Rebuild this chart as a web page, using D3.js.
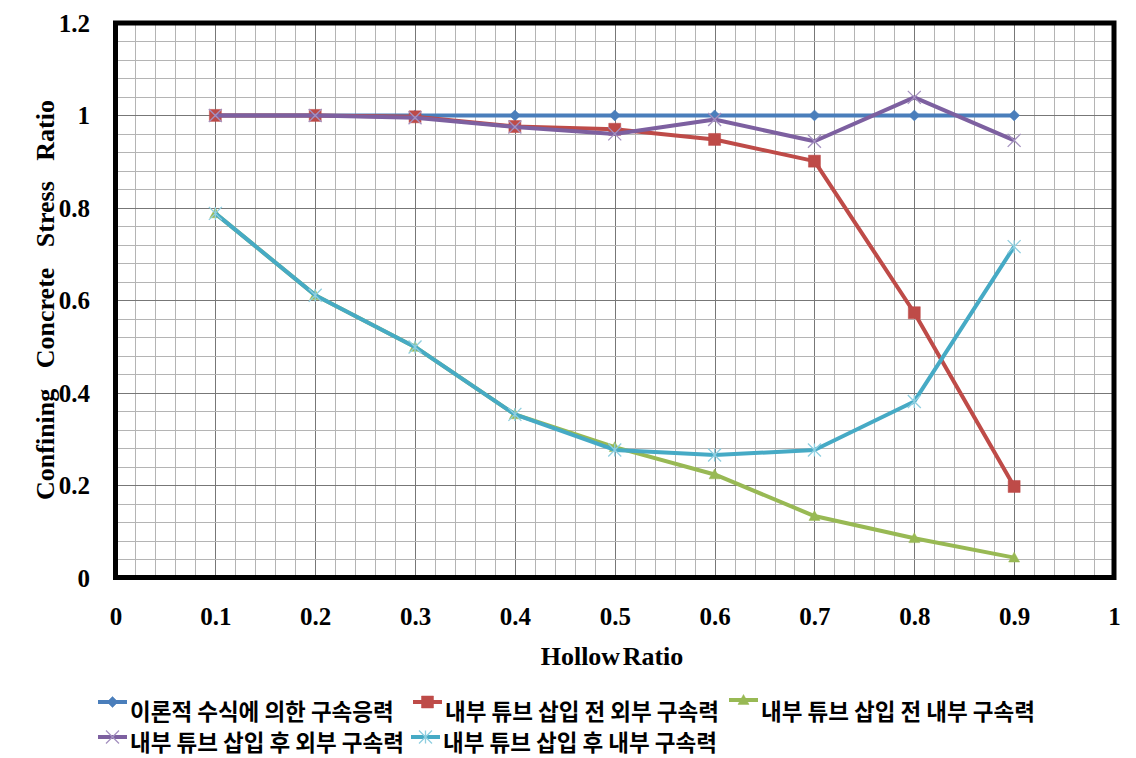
<!DOCTYPE html>
<html><head><meta charset="utf-8">
<script src="https://cdn.jsdelivr.net/npm/d3@7"></script>
<style>body{margin:0;background:#fff}svg{display:block}</style>
</head><body><svg id="c" width="1136" height="758"></svg>
<script>
// ---- data ----
const hollowRatio = [0.1, 0.2, 0.3, 0.4, 0.5, 0.6, 0.7, 0.8, 0.9];
const seriesNames = [
  "이론적 수식에 의한 구속응력",
  "내부 튜브 삽입 전 외부 구속력",
  "내부 튜브 삽입 전 내부 구속력",
  "내부 튜브 삽입 후 외부 구속력",
  "내부 튜브 삽입 후 내부 구속력"
];
const theoretical = [1, 1, 1, 1, 1, 1, 1, 1, 1];
const outerBefore = [1.0, 1.0, 0.997, 0.976, 0.970, 0.948, 0.901, 0.573, 0.197];
const innerBefore = [0.788, 0.611, 0.499, 0.353, 0.282, 0.223, 0.133, 0.085, 0.043];
const outerAfter  = [1.0, 1.0, 0.995, 0.975, 0.960, 0.991, 0.944, 1.039, 0.946];
const innerAfter  = [0.788, 0.611, 0.499, 0.353, 0.276, 0.265, 0.276, 0.381, 0.716];
const xTickValues = [0, 0.1, 0.2, 0.3, 0.4, 0.5, 0.6, 0.7, 0.8, 0.9, 1];
const xTickLabels = ["0", "0.1", "0.2", "0.3", "0.4", "0.5", "0.6", "0.7", "0.8", "0.9", "1"];
const yTickValues = [0, 0.2, 0.4, 0.6, 0.8, 1, 1.2];
const yTickLabels = ["0", "0.2", "0.4", "0.6", "0.8", "1", "1.2"];
const xTitle = "Hollow Ratio";
const yTitle = "Confining Concrete Stress Ratio";

// ---- styles ----
const colors = ["#4A7EBB", "#BE4B48", "#98B954", "#7D60A0", "#46AAC5"];
const markerTypes = ["diamond", "square", "triangle", "x", "star"];
const allSeries = [theoretical, outerBefore, innerBefore, outerAfter, innerAfter];

const svg = d3.select("#c");
const L = 115.5, R = 1114, T = 23, B = 577.5;
const x = d3.scaleLinear().domain([0, 1]).range([L, R]);
const y = d3.scaleLinear().domain([0, 1.2]).range([B, T]);

// grid
const gx = d3.range(0, 1.0001, 0.02);
const gy = d3.range(0, 1.2001, 0.04);
const grid = svg.append("g");
grid.selectAll("line.mx").data(gx).join("line")
  .attr("x1", d => Math.round(x(d)) + 0.5).attr("x2", d => Math.round(x(d)) + 0.5)
  .attr("y1", T).attr("y2", B)
  .attr("stroke", d => (Math.abs(d * 10 - Math.round(d * 10)) < 1e-6) ? "#777" : "#b4b4b4")
  .attr("stroke-width", 1);
grid.selectAll("line.my").data(gy).join("line")
  .attr("y1", d => Math.round(y(d)) + 0.5).attr("y2", d => Math.round(y(d)) + 0.5)
  .attr("x1", L).attr("x2", R)
  .attr("stroke", d => (Math.abs(d * 5 - Math.round(d * 5)) < 1e-6) ? "#777" : "#b4b4b4")
  .attr("stroke-width", 1);

// marker path generator
function markerPath(type, s) {
  const h = s / 2;
  switch (type) {
    case "diamond": return `M0,${-h}L${h},0L0,${h}L${-h},0Z`;
    case "square": return `M${-h},${-h}H${h}V${h}H${-h}Z`;
    case "triangle": return `M0,${-h}L${h},${h * 0.8}L${-h},${h * 0.8}Z`;
    case "x": return `M${-h},${-h}L${h},${h}M${h},${-h}L${-h},${h}`;
    case "star": return `M${-h},${-h}L${h},${h}M${h},${-h}L${-h},${h}M0,${-h}V${h}`;
  }
}
const markerSize = {diamond: 11, square: 12, triangle: 11, x: 13, star: 13};
function drawMarker(g, type, color, cx, cy) {
  const p = g.append("path").attr("transform", `translate(${cx},${cy})`)
    .attr("d", markerPath(type, markerSize[type]));
  if (type === "x" || type === "star") {
    p.attr("fill", "none").attr("stroke", type === "x" ? "#A592C0" : "#8FCFE0").attr("stroke-width", 1.3);
  } else {
    p.attr("fill", color).attr("stroke", color).attr("stroke-width", 0.5);
  }
}

// series
const line = d3.line().x(d => x(d[0])).y(d => y(d[1]));
allSeries.forEach((vals, i) => {
  const g = svg.append("g");
  const pts = hollowRatio.map((h, j) => [h, vals[j]]);
  g.append("path").datum(pts).attr("d", line)
    .attr("fill", "none").attr("stroke", colors[i]).attr("stroke-width", 4)
    .attr("stroke-linejoin", "round");
  pts.forEach(p => drawMarker(g, markerTypes[i], colors[i], x(p[0]), y(p[1])));
});

// border
svg.append("rect").attr("x", L).attr("y", T).attr("width", R - L).attr("height", B - T)
  .attr("fill", "none").attr("stroke", "#000").attr("stroke-width", 5);

// axes (labels only, via d3 axes)
const serif = "'Liberation Serif','Times New Roman',serif";
const yAxis = d3.axisLeft(y).tickValues(yTickValues).tickFormat((d, i) => yTickLabels[i]).tickSize(0).tickPadding(0);
const ya = svg.append("g").attr("transform", `translate(90,0)`).call(yAxis);
ya.select(".domain").remove();
ya.selectAll("text").attr("font-family", serif).attr("font-weight", "bold").attr("font-size", 25)
  .attr("fill", "#000").attr("dy", "0.34em");

const xAxis = d3.axisBottom(x).tickValues(xTickValues).tickFormat((d, i) => xTickLabels[i]).tickSize(0).tickPadding(0);
const xa = svg.append("g").call(xAxis);
xa.select(".domain").remove();
xa.selectAll("text").attr("font-family", serif).attr("font-weight", "bold").attr("font-size", 25)
  .attr("fill", "#000").attr("y", 625).attr("dy", 0);

svg.append("text").attr("x", 612).attr("y", 665).attr("text-anchor", "middle")
  .attr("font-family", serif).attr("font-weight", "bold").attr("font-size", 26)
  .attr("word-spacing", -4).text(xTitle);

svg.append("text").attr("transform", "translate(54,300) rotate(-90)").attr("text-anchor", "middle")
  .attr("font-family", serif).attr("font-weight", "bold").attr("font-size", 26)
  .attr("word-spacing", 14).text(yTitle);

// legend
const legendPos = [[98, 702, 720], [413, 702, 720], [729, 700, 720], [98, 737, 751], [411, 737, 751]];
const kfont = "'Noto Sans CJK KR','Noto Sans CJK SC',sans-serif";
seriesNames.forEach((name, i) => {
  const [lx, ly, by] = legendPos[i];
  const g = svg.append("g");
  g.append("line").attr("x1", lx).attr("x2", lx + 29).attr("y1", ly).attr("y2", ly)
    .attr("stroke", colors[i]).attr("stroke-width", 4);
  drawMarker(g, markerTypes[i], colors[i], lx + 14.5, ly);
  g.append("text").attr("x", lx + 32).attr("y", by)
    .attr("font-family", kfont).attr("font-weight", "bold").attr("font-size", 22.5)
    .attr("fill", "#000").text(name);
});
</script></body></html>
